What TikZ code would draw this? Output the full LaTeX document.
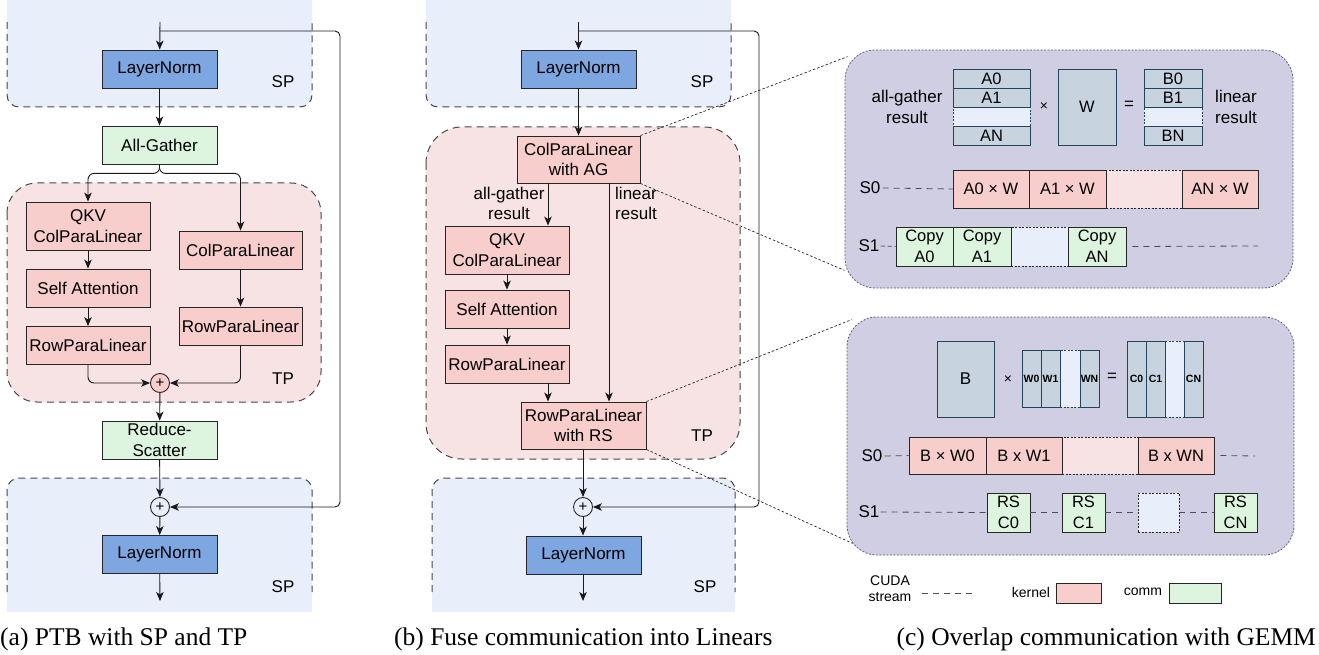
\documentclass[tikz,border=0pt]{standalone}
\usepackage{fontspec}
\setmainfont{Liberation Serif}
\setsansfont{Liberation Sans}
\usetikzlibrary{arrows.meta}
\definecolor{spfill}{RGB}{232,239,251}
\definecolor{tpfill}{RGB}{248,227,228}
\definecolor{lnfill}{RGB}{126,166,224}
\definecolor{pkfill}{RGB}{248,206,204}
\definecolor{grfill}{RGB}{221,244,222}
\definecolor{pufill}{RGB}{208,206,227}
\definecolor{pudraw}{RGB}{95,95,125}
\definecolor{mtfill}{RGB}{199,212,224}
\definecolor{mtdraw}{RGB}{35,68,92}
\newcommand{\boxfont}{\sffamily\fontsize{17}{20.5}\selectfont}
\newcommand{\innerfont}{\sffamily\fontsize{16.5}{21}\selectfont}
\newcommand{\tinybold}{\sffamily\bfseries\fontsize{10.5}{12}\selectfont}
\newcommand{\legfont}{\sffamily\fontsize{14}{16}\selectfont}
\newcommand{\capfont}{\rmfamily\fontsize{25.5}{28}\selectfont}
\tikzset{
 nbox/.style={draw=black!85, line width=0.9pt, inner sep=0pt, align=center, font=\boxfont},
 lnbox/.style={nbox, fill=lnfill},
 pkbox/.style={nbox, fill=pkfill},
 grbox/.style={nbox, fill=grfill},
 sz/.style 2 args={minimum width=#1pt, minimum height=#2pt},
 plusnode/.style={circle, draw=black!85, line width=0.9pt, minimum size=19pt, inner sep=0pt, font=\sffamily\fontsize{15}{15}\selectfont},
 arr/.style={-{Stealth[length=9pt,width=7.5pt,inset=2.5pt]}, line width=0.9pt, draw=black!90},
 region/.style={draw=black!72, line width=1pt, dash pattern=on 7pt off 5pt},
 lbl/.style={font=\boxfont, inner sep=0pt},
 pubox/.style={draw=pudraw, fill=pufill, line width=0.8pt, dash pattern=on 2pt off 1.5pt, rounded corners=30pt, inner sep=0pt},
 zoomline/.style={draw=black!85, line width=0.7pt, dash pattern=on 2.5pt off 2pt},
 matb/.style={draw=mtdraw, fill=mtfill, line width=0.8pt, inner sep=0pt, align=center, font=\innerfont},
 matblank/.style={draw=mtdraw, fill=spfill, line width=0.8pt, dash pattern=on 2pt off 1.5pt, inner sep=0pt},
 kernb/.style={draw=black!85, fill=pkfill, line width=0.8pt, inner sep=0pt, align=center, font=\innerfont},
 kernblank/.style={draw=black!85, fill=tpfill, line width=0.8pt, dash pattern=on 2pt off 1.5pt, inner sep=0pt},
 commb/.style={draw=black!85, fill=grfill, line width=0.8pt, inner sep=0pt, align=center, font=\innerfont},
 commblank/.style={draw=black!85, fill=spfill, line width=0.8pt, dash pattern=on 2pt off 1.5pt, inner sep=0pt},
 streamline/.style={draw=black!70, line width=0.8pt, dash pattern=on 6pt off 5pt},
}
\begin{document}
\begin{tikzpicture}[x=1pt,y=-1pt]
\useasboundingbox (0,0) rectangle (1319,655);

% ================= panel (a) regions
\fill[spfill, rounded corners=12pt] (7,-30) rectangle (312,107);
\draw[region, rounded corners=12pt] (7,22) -- (7,107) -- (312,107) -- (312,22);
\fill[spfill, rounded corners=12pt] (7,478) rectangle (312,560);
\fill[spfill] (7,520) rectangle (312,612);
\draw[region, rounded corners=12pt] (7,592) -- (7,478) -- (312,478) -- (312,592);
\draw[region, fill=tpfill, rounded corners=30pt] (7,183) rectangle (321,402);

% ================= panel (b) regions
\fill[spfill, rounded corners=12pt] (426,-30) rectangle (731,107);
\draw[region, rounded corners=12pt] (426,22) -- (426,107) -- (731,107) -- (731,22);
\fill[spfill, rounded corners=12pt] (432,478) rectangle (735,560);
\fill[spfill] (432,520) rectangle (735,612);
\draw[region, rounded corners=12pt] (432,592) -- (432,478) -- (735,478) -- (735,592);
\draw[region, fill=tpfill, rounded corners=36pt] (426,127) rectangle (740,459);

% ================= panel (c) boxes
\node[pubox, sz={448}{238}] (pcA) at (1069,169) {};
\node[pubox, sz={447}{238}] (pcB) at (1070.5,436) {};

% ================= panel (a) nodes
\node[lbl] (spA1) at (283,82) {SP};
\node[lbl] (tpA) at (283,379) {TP};
\node[lbl] (spA2) at (283,587) {SP};
\node[lnbox, sz={115}{38}] (lnA1) at (159.5,69) {LayerNorm};
\node[grbox, sz={115}{38}] (agA) at (159.5,145) {All-Gather};
\node[pkbox, sz={124}{48}] (qkvA) at (88,226) {QKV\\ColParaLinear};
\node[pkbox, sz={124}{38}] (saA) at (88,288) {Self Attention};
\node[pkbox, sz={124}{38}] (rpA1) at (88,345.5) {RowParaLinear};
\node[pkbox, sz={123}{38}] (cpA) at (240.5,250) {ColParaLinear};
\node[pkbox, sz={123}{38}] (rpA2) at (240.5,326) {RowParaLinear};
\node[plusnode, fill=pkfill] (plusA1) at (160,383) {+};
\node[grbox, sz={115}{38}] (rsA) at (159.5,440) {Reduce-\\Scatter};
\node[plusnode, fill=spfill] (plusA2) at (160,507) {+};
\node[lnbox, sz={115}{38}] (lnA2) at (159.5,554.5) {LayerNorm};
\coordinate (inA) at (160,22);
\coordinate (brA) at (160,31);
\coordinate (outA) at (160,601);

\draw[arr] (inA) -- (lnA1);
\draw[arr, rounded corners=5pt] (brA) -- (340,31) -- (340,507) -- (plusA2.east);
\draw[arr] (lnA1) -- (agA);
\draw[arr, rounded corners=6pt] (agA.south) -- ++(0,9) -| (qkvA.north);
\draw[arr, rounded corners=6pt] (agA.south) -- ++(0,9) -| (cpA.north);
\draw[arr] (qkvA) -- (saA);
\draw[arr] (saA) -- (rpA1);
\draw[arr] (cpA) -- (rpA2);
\draw[arr, rounded corners=6pt] (rpA1.south) |- (plusA1.west);
\draw[arr, rounded corners=6pt] (rpA2.south) |- (plusA1.east);
\draw[arr] (plusA1) -- (rsA);
\draw[arr] (rsA) -- (plusA2);
\draw[arr] (plusA2) -- (lnA2);
\draw[arr] (lnA2) -- (outA);

% ================= panel (b) nodes
\node[lbl] (spB1) at (702,82) {SP};
\node[lbl] (tpB) at (702,436) {TP};
\node[lbl] (spB2) at (705,587) {SP};
\node[lnbox, sz={115}{38}] (lnB1) at (578.5,69) {LayerNorm};
\node[pkbox, sz={123}{47}] (agl) at (578.5,159.5) {ColParaLinear\\with AG};
\node[pkbox, sz={124}{48}] (qkvB) at (507,250) {QKV\\ColParaLinear};
\node[pkbox, sz={124}{38}] (saB) at (507,309) {Self Attention};
\node[pkbox, sz={124}{38}] (rpB) at (507,364) {RowParaLinear};
\node[pkbox, sz={125}{47}] (rsl) at (583.5,425.5) {RowParaLinear\\with RS};
\node[plusnode, fill=spfill] (plusB) at (583,507) {+};
\node[lnbox, sz={115}{38}] (lnB2) at (583.5,555) {LayerNorm};
\node[lbl, align=center] (agres) at (509,203.5) {all-gather\\result};
\node[lbl, align=left] (linres) at (636,203.5) {linear\\result};
\coordinate (inB) at (578.5,22);
\coordinate (brB) at (578.5,31);
\coordinate (outB) at (583,601);

\draw[arr] (inB) -- (lnB1);
\draw[arr, rounded corners=5pt] (brB) -- (759,31) -- (759,507) -- (plusB.east);
\draw[arr] (lnB1) -- (agl);
\draw[arr] ([xshift=-30.5pt]agl.south) -- ([xshift=-30.5pt]agl.south |- qkvB.north);
\draw[arr] ([xshift=30.5pt]agl.south) -- ([xshift=30.5pt]agl.south |- rsl.north);
\draw[arr] (qkvB) -- (saB);
\draw[arr] (saB) -- (rpB);
\draw[arr] ([xshift=41pt]rpB.south) -- ([xshift=41pt]rpB.south |- rsl.north);
\draw[arr] (rsl.south -| plusB) -- (plusB);
\draw[arr] (plusB) -- (lnB2.north -| plusB);
\draw[arr] (lnB2.south -| outB) -- (outB);

% ================= zoom connectors
\draw[zoomline] (agl.north east) -- ([shift={(3pt,-7pt)}]pcA.north west);
\draw[zoomline] (agl.south east) -- ([shift={(0pt,18pt)}]pcA.south west);
\draw[zoomline] (rsl.north east) -- ([shift={(5pt,-3pt)}]pcB.north west);
\draw[zoomline] (rsl.south east) -- ([shift={(6pt,12pt)}]pcB.south west);

% ================= panel (c) top contents
\node[lbl, align=center] (agresC) at (907,107) {all-gather\\result};
\node[lbl, align=center] (linresC) at (1236,107) {linear\\result};
\node[matblank, sz={77}{19}] (Ab) at (991.5,116.5) {};
\node[matb, sz={77}{19}] (A0) at (991.5,78.5) {A0};
\node[matb, sz={77}{19}] (A1) at (991.5,97.5) {A1};
\node[matb, sz={77}{19}] (AN) at (991.5,135.5) {AN};
\node[lbl, font=\sffamily\fontsize{14}{14}\selectfont] (timesA) at (1044,107) {×};
\node[matb, sz={58}{76}] (W) at (1087,107) {W};
\node[lbl] (eqA) at (1129,105) {=};
\node[matblank, sz={58}{19}] (Bb) at (1173,116.5) {};
\node[matb, sz={58}{19}] (B0) at (1173,78.5) {B0};
\node[matb, sz={58}{19}] (B1) at (1173,97.5) {B1};
\node[matb, sz={58}{19}] (BN) at (1173,135.5) {BN};

\node[lbl] (s0a) at (870,188) {S0};
\node[kernblank, sz={76}{38}] (kAb) at (1144,189) {};
\node[kernb, sz={76}{38}] (kA0) at (991,189) {A0 × W};
\node[kernb, sz={77}{38}] (kA1) at (1067.5,189) {A1 × W};
\node[kernb, sz={76}{38}] (kAN) at (1220,189) {AN × W};
\draw[streamline] (s0a.east) ++(2pt,0) -- (kA0.west);

\node[lbl] (s1a) at (869,246) {S1};
\node[commblank, sz={57}{39}] (cAb) at (1039.5,246.5) {};
\node[commb, sz={57}{39}] (cA0) at (924.5,246.5) {Copy\\A0};
\node[commb, sz={58}{39}] (cA1) at (982,246.5) {Copy\\A1};
\node[commb, sz={58}{39}] (cAN) at (1097,246.5) {Copy\\AN};
\coordinate (s1aend) at (1258,246);
\draw[streamline, dash pattern=on 4pt off 3pt] (s1a.east) ++(1pt,0) -- (cA0.west);
\draw[streamline] (cAN.east) ++(6pt,0) -- (s1aend);

% ================= panel (c) bottom contents
\node[matb, sz={57}{76}, font=\boxfont] (Bm) at (965.5,379) {B};
\node[lbl, font=\sffamily\fontsize{14}{14}\selectfont] (timesB) at (1008,380) {×};
\node[matblank, sz={20}{57}] (Wb) at (1070,378.5) {};
\node[matb, sz={19}{57}, font=\tinybold] (W0) at (1031.5,378.5) {W0};
\node[matb, sz={19}{57}, font=\tinybold] (W1) at (1050.5,378.5) {W1};
\node[matb, sz={19}{57}, font=\tinybold] (WN) at (1089.5,378.5) {WN};
\node[lbl] (eqB) at (1112,377) {=};
\node[matblank, sz={19}{76}] (Cb) at (1174.5,379) {};
\node[matb, sz={19}{76}, font=\tinybold] (C0) at (1136.5,379) {C0};
\node[matb, sz={19}{76}, font=\tinybold] (C1) at (1155.5,379) {C1};
\node[matb, sz={19}{76}, font=\tinybold] (CN) at (1193.5,379) {CN};

\node[lbl] (s0b) at (872,456) {S0};
\node[kernblank, sz={76}{37}] (kBb) at (1100,455.5) {};
\node[kernb, sz={77}{37}] (kB0) at (947.5,455.5) {B × W0};
\node[kernb, sz={76}{37}] (kB1) at (1024,455.5) {B x W1};
\node[kernb, sz={76}{37}] (kBN) at (1176,455.5) {B x WN};
\coordinate (s0bend) at (1255,456);
\draw[streamline] (s0b.east) ++(2pt,0) -- (kB0.west);
\draw[streamline] (kBN.east) ++(6pt,0) -- (s0bend);

\node[lbl] (s1b) at (869,512) {S1};
\node[commb, sz={43}{39}] (rc0) at (1008.5,512.5) {RS\\C0};
\node[commb, sz={43}{39}] (rc1) at (1083.5,512.5) {RS\\C1};
\node[commblank, sz={41}{39}] (rcb) at (1158.5,512.5) {};
\node[commb, sz={43}{39}] (rcN) at (1235.5,512.5) {RS\\CN};
\draw[streamline] (s1b.east) ++(1pt,0) -- (rc0.west);
\draw[streamline] (rc0.east) -- (rc1.west);
\draw[streamline] (rc1.east) -- (rcb.west);
\draw[streamline] (rcb.east) -- (rcN.west);

% ================= legend
\node[lbl, font=\legfont, align=center] (cuda) at (890,589) {CUDA\\stream};
\coordinate (lgs) at (922,593);
\coordinate (lge) at (973,593);
\draw[streamline] (lgs) -- (lge);
\node[lbl, font=\legfont] (kerntxt) at (1031,592) {kernel};
\node[kernb, sz={45}{20}] (kernsw) at (1078.5,593) {};
\node[lbl, font=\legfont] (commtxt) at (1143,592) {comm};
\node[commb, sz={52}{20}] (commsw) at (1195,593) {};

% ================= captions
\node[anchor=base west, inner sep=0pt, font=\capfont] (capA) at (0,645) {(a) PTB with SP and TP};
\node[anchor=base west, inner sep=0pt, font=\capfont] (capB) at (394,645) {(b) Fuse communication into Linears};
\node[anchor=base east, inner sep=0pt, font=\capfont] (capC) at (1316,645) {(c) Overlap communication with GEMM};
\end{tikzpicture}
\end{document}
